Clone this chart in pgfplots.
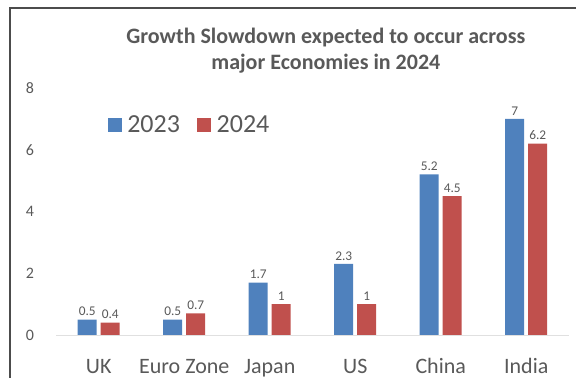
\documentclass[border=0pt]{standalone}
\usepackage{pgfplots}
\pgfplotsset{compat=1.18}
\usepackage{fontspec}
\setmainfont{Carlito}
\definecolor{b23}{HTML}{4F81BD}
\definecolor{r24}{HTML}{C0504D}
\definecolor{txt}{HTML}{595959}
\begin{document}
\begin{tikzpicture}
\path[use as bounding box] (-42pt,-32.25pt) rectangle (390pt,251.25pt);
\draw[line width=1.3pt, color=black!70] (-34.5pt,-40pt) -- (-34.5pt,245.25pt) -- (400pt,245.25pt);
\begin{axis}[
 at={(0,0)}, anchor=south west, name=ax,
 scale only axis, width=384.75pt, height=185.25pt,
 xmin=-0.5, xmax=5.5, ymin=0, ymax=8,
 enlarge x limits=false, enlarge y limits=false,
 clip mode=individual,
 ybar=3pt, bar width=14.25pt,
 xtick={0,...,5}, xticklabels={UK,Euro Zone,Japan,US,China,India},
 ytick={0,2,4,6,8},
 axis x line*=bottom, axis y line*=left,
 x axis line style={draw=black!12,-},
 y axis line style={draw=none},
 tick style={draw=none},
 xticklabel style={anchor=base, yshift=-24.5pt, font=\fontsize{16.5}{18}\selectfont, text=txt},
 yticklabel style={anchor=center, xshift=-19.5pt, font=\fontsize{12}{13}\selectfont, text=txt},
 /pgf/number format/assume math mode=true,
 nodes near coords,
 every node near coord/.append style={font=\fontsize{10}{11}\selectfont, text=txt, inner sep=2.5pt},
 legend style={at={(0.093,0.85)}, anchor=west, draw=none, fill=none, legend columns=2, font=\fontsize{19.5}{21}\selectfont, text=txt, /tikz/every even column/.append style={column sep=11pt}, /tikz/every odd column/.append style={column sep=2pt}},
 legend image code/.code={\fill[#1] (0pt,-5.25pt) rectangle (10.5pt,5.25pt);},
]
\addplot[fill=b23, draw=none] coordinates {(0,0.5) (1,0.5) (2,1.7) (3,2.3) (4,5.2) (5,7)};
\addplot[fill=r24, draw=none] coordinates {(0,0.4) (1,0.7) (2,1) (3,1) (4,4.5) (5,6.2)};
\legend{2023,2024}
\node[align=center, font=\bfseries\fontsize{16.5}{19.5}\selectfont, text=txt, yshift=27.75pt] at (rel axis cs:0.526,1) {Growth Slowdown expected to occur across\\major Economies in 2024};
\end{axis}
\end{tikzpicture}
\end{document}
